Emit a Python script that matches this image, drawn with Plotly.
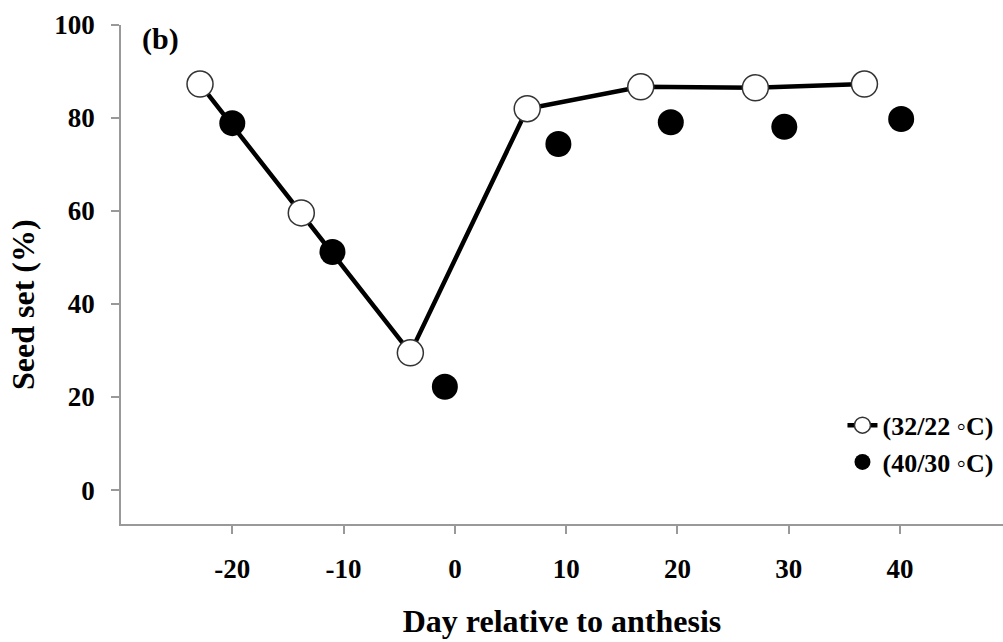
import plotly.graph_objects as go

# Data
day_32_22 = [-22.9, -13.8, -4.0, 6.5, 16.7, 27.0, 36.8]
seed_32_22 = [87.3, 59.6, 29.5, 82.0, 86.7, 86.5, 87.3]
day_40_30 = [-20.0, -11.0, -0.9, 9.3, 19.4, 29.6, 40.1]
seed_40_30 = [78.9, 51.2, 22.2, 74.4, 79.1, 78.1, 79.8]

x_ticks = [-20, -10, 0, 10, 20, 30, 40]
y_ticks = [0, 20, 40, 60, 80, 100]

FONT = "Liberation Serif"
W, H = 1003, 642
L, R, T, B = 121, 0, 25, 118
PW, PH = W - L - R, H - T - B


def px(xp):
    return (xp - L) / PW


def py(yp):
    return (H - B - yp) / PH


fig = go.Figure()
fig.add_trace(go.Scatter(
    x=day_32_22, y=seed_32_22, mode="lines+markers", name="<b>(32/22 ◦C)</b>",
    line=dict(color="black", width=4.5),
    marker=dict(symbol="circle", size=26, color="white",
                line=dict(color="#333333", width=1.5)),
))
fig.add_trace(go.Scatter(
    x=day_40_30, y=seed_40_30, mode="markers", name="<b>(40/30 ◦C)</b>",
    marker=dict(symbol="circle", size=26, color="black"),
))

fig.update_layout(
    width=W, height=H,
    margin=dict(l=L, r=R, t=T, b=B),
    plot_bgcolor="white", paper_bgcolor="white",
    font=dict(family=FONT, color="black", size=26),
    showlegend=True,
    legend=dict(x=0.818, y=0.245, xanchor="left", yanchor="top",
                font=dict(family=FONT, size=26, color="black"),
                bgcolor="rgba(0,0,0,0)", tracegroupgap=2, itemwidth=30),
    xaxis=dict(
        range=[-30, 49.25], tickvals=x_ticks,
        ticktext=[f"<b>{v}</b>" for v in x_ticks],
        showgrid=False, zeroline=False,
        showline=True, linecolor="#999999", linewidth=1.5,
        ticks="outside", ticklen=8, tickcolor="#999999", tickwidth=1.5,
        ticklabelstandoff=12,
        tickfont=dict(family=FONT, size=27, color="black"),
        title=dict(text="<b>Day relative to anthesis</b>",
                   font=dict(family=FONT, size=32, color="black"), standoff=26),
    ),
    yaxis=dict(
        range=[-7.3, 100], tickvals=y_ticks,
        ticktext=[f"<b>{v}</b>" for v in y_ticks],
        showgrid=False, zeroline=False,
        showline=True, linecolor="#999999", linewidth=1.5,
        ticks="outside", ticklen=8, tickcolor="#999999", tickwidth=1.5,
        ticklabelstandoff=11,
        tickfont=dict(family=FONT, size=27, color="black"),
    ),
    annotations=[
        dict(text="<b>(b)</b>", xref="paper", yref="paper",
             x=px(160), y=py(39), xanchor="center", yanchor="middle",
             showarrow=False, font=dict(family=FONT, size=30, color="black")),
        dict(text="<b>Seed set (%)</b>", xref="paper", yref="paper",
             x=px(23), y=py(305), xanchor="center", yanchor="middle",
             textangle=-90, showarrow=False,
             font=dict(family=FONT, size=32, color="black")),
    ],
)

fig.write_html("out.html")
